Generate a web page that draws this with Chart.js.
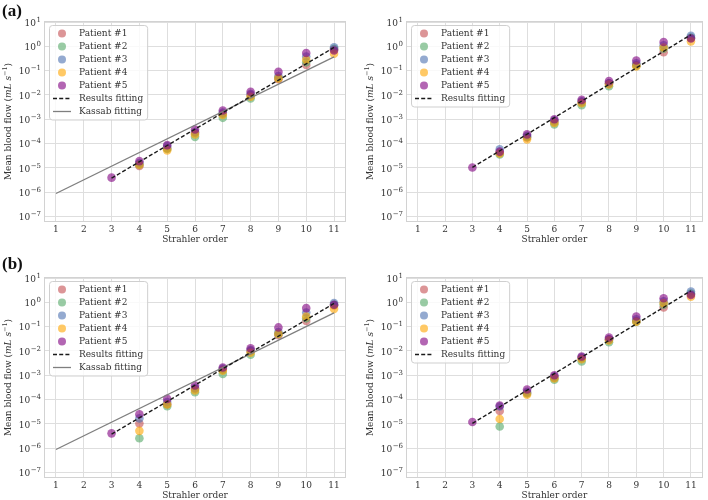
<!DOCTYPE html>
<html>
<head>
<meta charset="utf-8">
<script src="https://cdn.jsdelivr.net/npm/chart.js@4.4.0/dist/chart.umd.min.js"></script>
<style>
  html, body { margin: 0; padding: 0; background: #fff; width: 708px; height: 500px; overflow: hidden; position: relative; }
  .panel { position: absolute; }
  .panel canvas { display: block; }
  .tag { position: absolute; font: bold 17px "Liberation Serif", serif; color: #111; line-height: 1; }
</style>
</head>
<body>
<div class="panel" style="left:0;top:0"><canvas id="aLeft" width="354" height="250"></canvas></div>
<div class="panel" style="left:362px;top:0"><canvas id="aRight" width="345" height="250"></canvas></div>
<div class="panel" style="left:0;top:256px"><canvas id="bLeft" width="354" height="250"></canvas></div>
<div class="panel" style="left:362px;top:256px"><canvas id="bRight" width="345" height="250"></canvas></div>
<div class="tag" style="left:2px;top:2px">(a)</div>
<div class="tag" style="left:2px;top:255px">(b)</div>
<script>
// Strahler orders that have measurements
const orders = [3, 4, 5, 6, 7, 8, 9, 10, 11];
const xTicks = [1, 2, 3, 4, 5, 6, 7, 8, 9, 10, 11];
const yTicks = [1e-7, 1e-6, 1e-5, 1e-4, 1e-3, 1e-2, 1e-1, 1e0, 1e1];
// tick labels are 10 raised to these
const yTickBase = '10';
const yTickExponents = ['\u22127', '\u22126', '\u22125', '\u22124', '\u22123', '\u22122', '\u22121', '0', '1'];

const patientNames = ['Patient #1', 'Patient #2', 'Patient #3', 'Patient #4', 'Patient #5'];
const patientColors = [
  'rgba(196, 78, 82, 0.6)',
  'rgba(85, 168, 104, 0.6)',
  'rgba(76, 114, 176, 0.6)',
  'rgba(255, 165, 0, 0.6)',
  'rgba(128, 0, 128, 0.6)'
];

// mean blood flow (mL/s), one row per patient, columns = orders
const flowALeft = [
  [null, 1.2e-5, 6.5e-5, 2.8e-4, 1.7e-3, 1.0e-2, 0.045, 0.17, 0.75],
  [null, 1.4e-5, 6.0e-5, 1.9e-4, 1.15e-3, 7.2e-3, 0.05, 0.22, 0.8],
  [null, 1.6e-5, 8.0e-5, 3.0e-4, 1.9e-3, 1.1e-2, 0.06, 0.38, 0.91],
  [null, 1.35e-5, 5.3e-5, 2.4e-4, 1.5e-3, 8.5e-3, 0.048, 0.28, 0.5],
  [4.0e-6, 1.9e-5, 8.7e-5, 3.8e-4, 2.3e-3, 1.35e-2, 0.089, 0.53, 0.67]
];
const flowARight = [
  [null, 4.2e-5, 1.8e-4, 8.0e-4, 5.0e-3, 0.03, 0.17, 0.57, 2.2],
  [null, 3.6e-5, 1.9e-4, 6.2e-4, 3.8e-3, 0.023, 0.16, 0.8, 2.3],
  [null, 5.8e-5, 2.1e-4, 9.0e-4, 5.5e-3, 0.03, 0.2, 1.1, 2.7],
  [null, 3.9e-5, 1.5e-4, 7.0e-4, 4.6e-3, 0.027, 0.15, 0.9, 1.6],
  [1.05e-5, 4.7e-5, 2.4e-4, 1.0e-3, 6.3e-3, 0.037, 0.26, 1.5, 2.1]
];
const flowBLeft = [
  [null, 1.05e-5, 6.5e-5, 2.8e-4, 1.7e-3, 1.0e-2, 0.045, 0.17, 0.75],
  [null, 2.6e-6, 5.4e-5, 2.0e-4, 1.14e-3, 7.0e-3, 0.05, 0.22, 0.8],
  [null, 1.7e-5, 8.0e-5, 3.0e-4, 1.9e-3, 0.011, 0.06, 0.38, 0.93],
  [null, 5.2e-6, 6.3e-5, 2.4e-4, 1.55e-3, 8.5e-3, 0.051, 0.26, 0.54],
  [4.1e-6, 2.5e-5, 1.07e-4, 3.8e-4, 2.1e-3, 0.013, 0.093, 0.58, 0.79]
];
const flowBRight = [
  [null, 3.4e-5, 1.9e-4, 8.0e-4, 5.0e-3, 0.03, 0.17, 0.61, 2.2],
  [null, 7.9e-6, 1.8e-4, 6.6e-4, 3.7e-3, 0.023, 0.16, 0.8, 2.3],
  [null, 5.2e-5, 2.1e-4, 9.0e-4, 5.5e-3, 0.03, 0.2, 1.1, 2.8],
  [null, 1.6e-5, 1.6e-4, 7.5e-4, 4.6e-3, 0.027, 0.16, 0.93, 1.7],
  [1.2e-5, 5.7e-5, 2.6e-4, 1.0e-3, 5.9e-3, 0.036, 0.26, 1.48, 2.0]
];

// fitted lines (end points)
const resultsFitX = [3, 11];
const resultsFitLeftY = [3.8e-6, 0.9];
const resultsFitRightY = [1.05e-5, 3.0];
const kassabFitX = [1, 11];
const kassabFitY = [8.9e-7, 0.37];

const SERIF = '"DejaVu Serif", serif';
const TEXT = '#333';

// frame round the plot area
const framePlugin = {
  id: 'frame',
  beforeDatasetsDraw(chart) {
    const { ctx, chartArea: a } = chart;
    ctx.save();
    ctx.strokeStyle = '#d2d2d2';
    ctx.lineWidth = 1;
    ctx.strokeRect(Math.round(a.left) + 0.5, Math.round(a.top) + 0.5,
      Math.round(a.right - a.left) - 1, Math.round(a.bottom - a.top) - 1);
    ctx.restore();
  }
};

// y tick labels as 10 with a real superscript, and the y title
const yLabelsPlugin = {
  id: 'yLabels',
  afterDraw(chart) {
    const { ctx, chartArea: a, scales } = chart;
    ctx.save();
    ctx.fillStyle = TEXT;
    ctx.textBaseline = 'middle';
    const right = a.left - 3;
    yTicks.forEach((v, i) => {
      const y = scales.y.getPixelForValue(v);
      ctx.font = '7px ' + SERIF;
      const we = ctx.measureText(yTickExponents[i]).width;
      ctx.font = '9px ' + SERIF;
      const wb = ctx.measureText(yTickBase).width;
      ctx.fillText(yTickBase, right - we - wb - 0.5, y + 1.5);
      ctx.font = '7px ' + SERIF;
      ctx.fillText(yTickExponents[i], right - we, y - 2);
    });

    const parts = [
      { t: 'Mean blood flow (', f: '9px ' + SERIF, dy: 0 },
      { t: 'mL s', f: 'italic 9px ' + SERIF, dy: 0 },
      { t: '\u22121', f: '6.5px ' + SERIF, dy: -3.5 },
      { t: ')', f: '9px ' + SERIF, dy: 0 }
    ];
    ctx.translate(a.left - 35, (a.top + a.bottom) / 2);
    ctx.rotate(-Math.PI / 2);
    let total = 0;
    parts.forEach(p => { ctx.font = p.f; p.w = ctx.measureText(p.t).width; total += p.w; });
    let x = -total / 2;
    parts.forEach(p => { ctx.font = p.f; ctx.fillText(p.t, x, p.dy); x += p.w; });
    ctx.restore();
  }
};

// legend box inside the axes, top left
const boxLegendPlugin = {
  id: 'boxLegend',
  afterDatasetsDraw(chart, args, opts) {
    const { ctx, chartArea: a } = chart;
    const items = opts.items;
    ctx.save();
    ctx.font = '9px ' + SERIF;
    let maxW = 0;
    items.forEach(it => { maxW = Math.max(maxW, ctx.measureText(it.label).width); });
    const bx = a.left + 5, by = a.top + 4;
    const bw = 30 + maxW + 4, bh = 16.5 + (items.length - 1) * 13;
    ctx.beginPath();
    ctx.roundRect(bx + 0.5, by + 0.5, bw, bh, 3);
    ctx.fillStyle = 'rgba(255,255,255,0.8)';
    ctx.fill();
    ctx.strokeStyle = '#cfcfcf';
    ctx.lineWidth = 1;
    ctx.stroke();
    items.forEach((it, i) => {
      const cy = by + 8.5 + i * 13;
      if (it.kind === 'dot') {
        ctx.beginPath();
        ctx.arc(bx + 13, cy, 4, 0, Math.PI * 2);
        ctx.fillStyle = it.color;
        ctx.fill();
      } else {
        ctx.beginPath();
        ctx.setLineDash(it.dash || []);
        ctx.strokeStyle = it.color;
        ctx.lineWidth = it.width;
        ctx.moveTo(bx + 4, cy);
        ctx.lineTo(bx + 22, cy);
        ctx.stroke();
        ctx.setLineDash([]);
      }
      ctx.fillStyle = TEXT;
      ctx.textBaseline = 'middle';
      ctx.fillText(it.label, bx + 30, cy + 0.5);
    });
    ctx.restore();
  }
};

function buildPanel(id, flows, fitY, showKassab) {
  const datasets = [];
  const legendItems = patientNames.map((name, p) => ({ kind: 'dot', label: name, color: patientColors[p] }));

  datasets.push({
    label: 'Results fitting',
    data: resultsFitX.map((x, i) => ({ x: x, y: fitY[i] })),
    showLine: true,
    borderColor: '#1a1a1a',
    borderWidth: 1.4,
    borderDash: [4, 2.2],
    pointRadius: 0,
    order: 0
  });
  legendItems.push({ kind: 'line', label: 'Results fitting', color: '#1a1a1a', width: 1.4, dash: [4, 2.2] });

  if (showKassab) {
    datasets.push({
      label: 'Kassab fitting',
      data: kassabFitX.map((x, i) => ({ x: x, y: kassabFitY[i] })),
      showLine: true,
      borderColor: '#7f7f7f',
      borderWidth: 1.3,
      pointRadius: 0,
      order: 0
    });
    legendItems.push({ kind: 'line', label: 'Kassab fitting', color: '#7f7f7f', width: 1.3 });
  }

  flows.forEach((row, p) => {
    datasets.push({
      label: patientNames[p],
      data: orders.map((o, i) => ({ x: o, y: row[i] })).filter(d => d.y !== null),
      pointRadius: 4.3,
      pointBackgroundColor: patientColors[p],
      pointBorderWidth: 0,
      pointBorderColor: 'rgba(0,0,0,0)',
      order: 5 - p
    });
  });

  return new Chart(document.getElementById(id), {
    type: 'scatter',
    data: { datasets: datasets },
    plugins: [framePlugin, yLabelsPlugin, boxLegendPlugin],
    options: {
      responsive: false,
      animation: false,
      devicePixelRatio: 1,
      events: [],
      layout: { padding: { top: 21, right: id.endsWith('Left') ? 8 : 0, left: 0, bottom: 0 } },
      plugins: {
        legend: { display: false },
        tooltip: { enabled: false },
        boxLegend: { items: legendItems }
      },
      scales: {
        x: {
          type: 'linear',
          min: 0.57,
          max: 11.43,
          afterBuildTicks: s => { s.ticks = xTicks.map(v => ({ value: v })); },
          afterFit: s => { s.height = 28; },
          grid: { color: '#dedede', lineWidth: 1, drawTicks: false },
          border: { display: false },
          ticks: { color: TEXT, padding: 2, font: { family: SERIF, size: 9 } },
          title: {
            display: true,
            text: 'Strahler order',
            color: TEXT,
            font: { family: SERIF, size: 9 },
            padding: { top: 0, bottom: 5 }
          }
        },
        y: {
          type: 'logarithmic',
          min: 6e-8,
          max: 11,
          afterBuildTicks: s => { s.ticks = yTicks.map(v => ({ value: v })); },
          afterFit: s => { s.width = 44; },
          grid: { color: '#dedede', lineWidth: 1, drawTicks: false },
          border: { display: false },
          ticks: { display: false }
        }
      }
    }
  });
}

buildPanel('aLeft', flowALeft, resultsFitLeftY, true);
buildPanel('aRight', flowARight, resultsFitRightY, false);
buildPanel('bLeft', flowBLeft, resultsFitLeftY, true);
buildPanel('bRight', flowBRight, resultsFitRightY, false);
</script>
</body>
</html>
